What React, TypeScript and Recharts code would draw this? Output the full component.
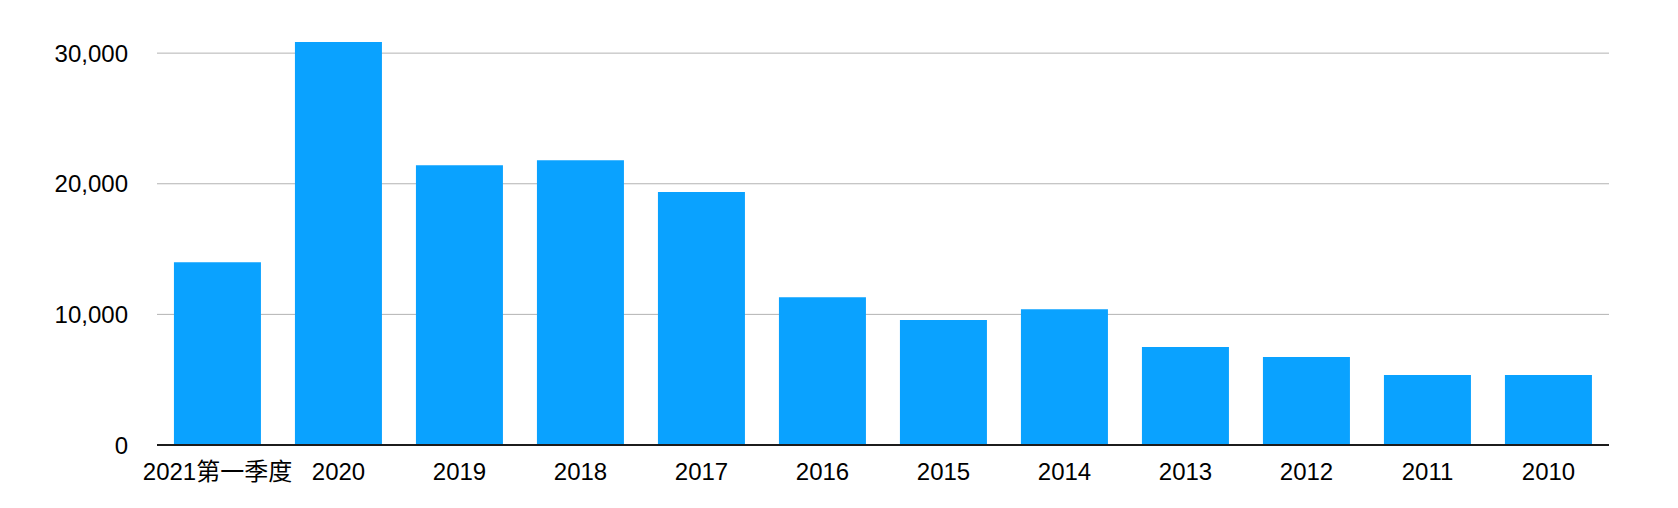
import { Bar, BarChart, CartesianGrid, XAxis, YAxis } from "recharts"

const categories = [
    "2021第一季度",
    "2020",
    "2019",
    "2018",
    "2017",
    "2016",
    "2015",
    "2014",
    "2013",
    "2012",
    "2011",
    "2010",
]

const values = [14000, 30850, 21420, 21800, 19360, 11320, 9560, 10400, 7500, 6730, 5360, 5360]

const yTicks = [0, 10000, 20000, 30000]

const data = categories.map((category, i) => ({ category, value: values[i] }))

const font = "'Liberation Sans', Arial, Helvetica, 'Noto Sans CJK SC', sans-serif"

export default function App() {
    return (
        <div style={{ position: "absolute", left: 0, top: 0, background: "#fff" }}>
            <BarChart
                width={1678}
                height={508}
                data={data}
                barCategoryGap="14%"
                margin={{ top: 27, right: 69, bottom: 23, left: 0 }}
            >
                {/* only the tick lines, no border line at the top of the plot */}
                <CartesianGrid
                    vertical={false}
                    horizontalValues={yTicks.slice(1)}
                    stroke="#b3b3b3"
                    strokeWidth={1}
                />
                <XAxis
                    dataKey="category"
                    interval={0}
                    height={40}
                    tickLine={false}
                    tickSize={6}
                    tickMargin={12}
                    axisLine={{ stroke: "#1c1c1c", strokeWidth: 2 }}
                    tick={{ fill: "#000", fontSize: 24, fontFamily: font }}
                />
                <YAxis
                    width={157}
                    domain={[0, 32000]}
                    ticks={yTicks}
                    interval={0}
                    axisLine={false}
                    tickLine={false}
                    tickSize={0}
                    tickMargin={29}
                    tickFormatter={(v: number) => v.toLocaleString("en-US")}
                    tick={{ fill: "#000", fontSize: 24, fontFamily: font }}
                />
                <Bar dataKey="value" fill="#0aa2ff" isAnimationActive={false} />
            </BarChart>
        </div>
    )
}
